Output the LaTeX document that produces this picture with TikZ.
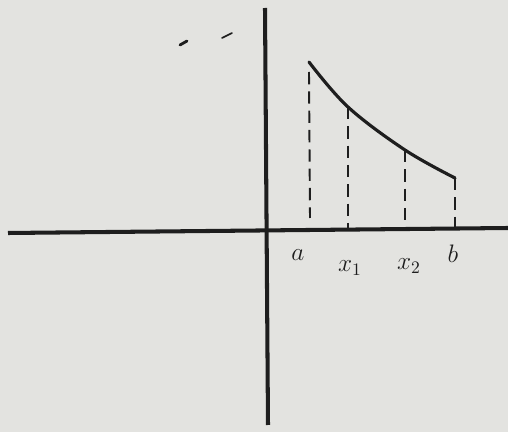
\documentclass[tikz,border=0pt]{standalone}
\usepackage{tikz}
\usetikzlibrary{positioning, calc}
\definecolor{papel}{HTML}{E3E3E0}
\definecolor{tinta}{HTML}{1E1E1E}

\begin{document}
\begin{tikzpicture}[
        x=0.02cm, y=-0.02cm,
        eje/.style={draw=tinta, line width=2.3pt},
        curva/.style={draw=tinta, line width=1.8pt, line cap=round},
        guia/.style={draw=tinta, line width=1.1pt, dash pattern=on 7pt off 4pt},
        marca/.style={draw=tinta, line width=1.6pt, line cap=round},
        lbl/.style={text=tinta, font=\Large, inner sep=1pt}
    ]
        \fill[papel] (0,0) rectangle (508,432);
        \useasboundingbox (0,0) rectangle (508,432);
        % ejes
        \coordinate (xl) at (8,233);  \coordinate (xr) at (508,228);
        \coordinate (yt) at (265,8);  \coordinate (yb) at (268,425);
        \draw[eje] (xl) -- (xr);
        \draw[eje] (yt) -- (yb);
        % curva f(x)
        \coordinate (fa) at (309,62);  \coordinate (f1) at (348,107);
        \coordinate (f2) at (405,150); \coordinate (fb) at (455,178);
        \draw[curva] plot[smooth, tension=0.6] coordinates {(fa) (f1) (f2) (fb)};
        % lineas verticales
        \coordinate (pa) at (310,218);
        \draw[guia] ($(fa)+(0,10)$) -- (pa);
        \draw[guia] (f1) -- (f1 |- 0,229);
        \draw[guia] (f2) -- (f2 |- 0,229);
        \draw[guia] (fb) -- (fb |- 0,229);
        % etiquetas
        \node[lbl] (a) at (298,255) {$a$};
        \node[lbl] (x1) at (350,268) {$x_1$};
        \node[lbl] (x2) at (409,266) {$x_2$};
        \node[lbl] (b) at (453,254) {$b$};
        % trazos sueltos
        \coordinate (m1) at (180,45); \coordinate (m2) at (187,41);
        \coordinate (m3) at (222,38); \coordinate (m4) at (232,33);
        \draw[marca] (m1) -- (m2);
        \draw[marca, line width=0.9pt] (m3) -- (m4);
\end{tikzpicture}
\end{document}
